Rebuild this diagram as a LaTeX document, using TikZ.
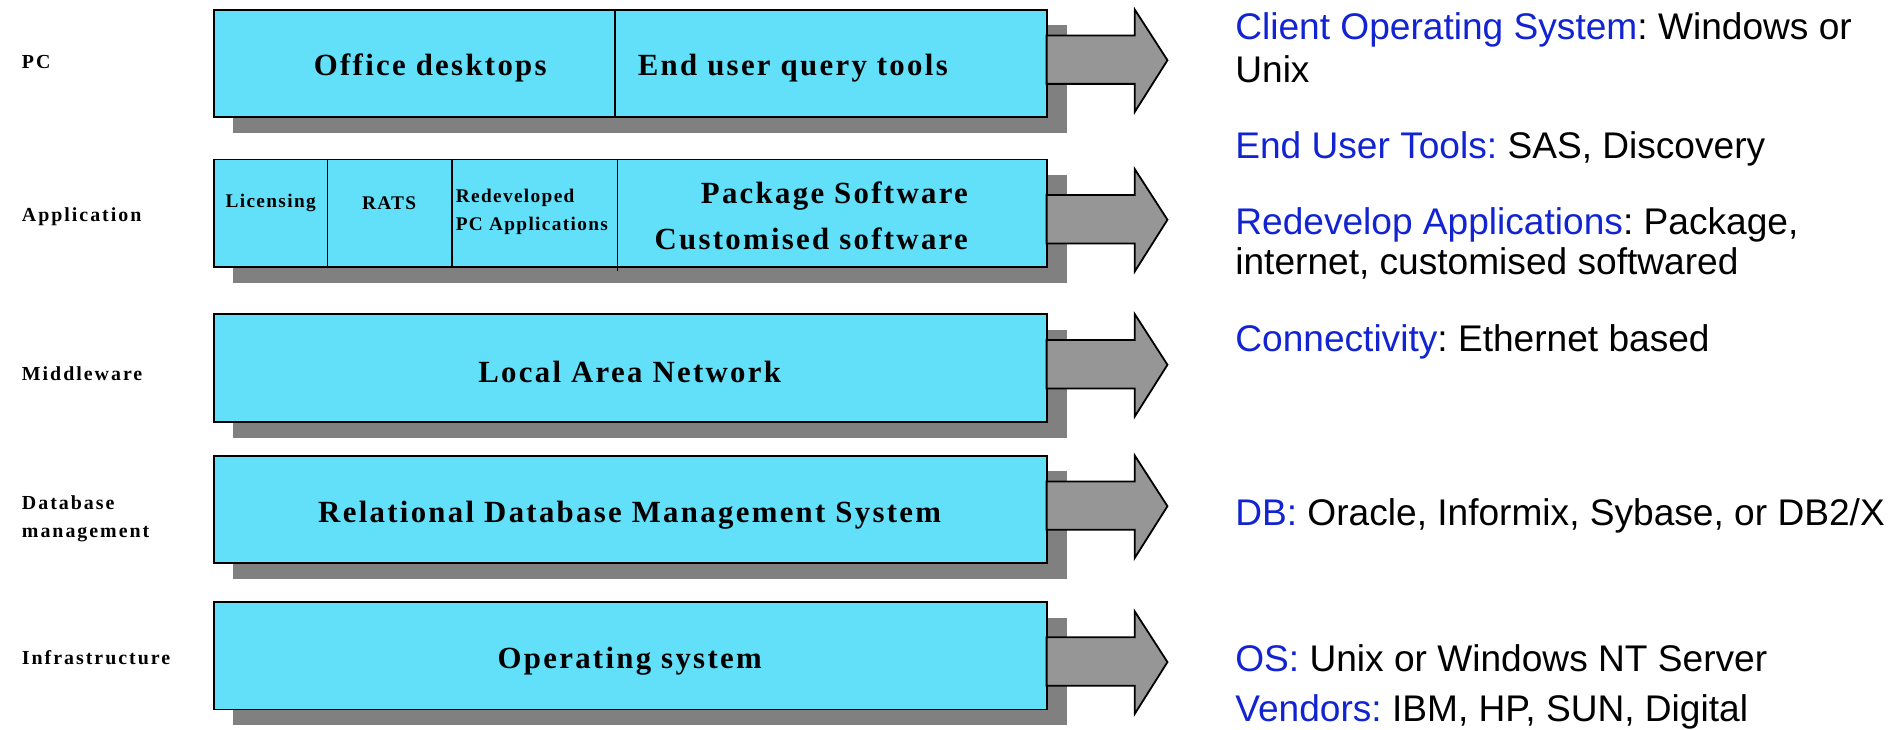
\documentclass[tikz,border=0pt]{standalone}
\usepackage{fontspec}
\setmainfont{Liberation Serif}
\newfontfamily\arialf{Liberation Sans}
\newfontfamily\boxf{Liberation Serif}[LetterSpace=7.5]
\newfontfamily\smallf{Liberation Serif}[LetterSpace=7]
\newfontfamily\labf{Liberation Serif}[LetterSpace=10]
\definecolor{boxcyan}{RGB}{98,224,250}
\definecolor{shadowgray}{RGB}{128,128,128}
\definecolor{arrowgray}{RGB}{150,150,150}
\definecolor{kwblue}{RGB}{18,36,210}
\frenchspacing
\tikzset{
  rowbox/.style={draw=black, line width=1.8pt, fill=boxcyan},
  rowshadow/.style={fill=shadowgray},
  divider/.style={draw=black, line width=1.5pt},
  blockarrow/.style={draw=black, line width=1.8pt, fill=arrowgray, line join=miter},
  bigtxt/.style={font=\boxf\bfseries\fontsize{30.8}{36}\selectfont, inner sep=0pt, align=center},
  smalltxt/.style={font=\smallf\bfseries\fontsize{19.3}{27}\selectfont, inner sep=0pt},
  labtxt/.style={font=\labf\bfseries\fontsize{19.9}{27}\selectfont, inner sep=0pt, anchor=west, align=left},
  righttxt/.style={font=\arialf\fontsize{37.1}{43}\selectfont, inner sep=0pt, anchor=base west},
}
\begin{document}
\begin{tikzpicture}[x=1.2086pt,y=-1.2086pt]
\useasboundingbox (0,0) rectangle (1568,604);
% rows: top, arrow shift
\foreach \t/\s in {8/0, 132/8, 260/0, 377/0, 498/8}{
  \pgfmathsetmacro{\h}{89}
  \fill[rowshadow] (193,\t+13) rectangle (883,\t+\h+13);
  \draw[rowbox] (177,\t) rectangle (866,\t+\h);
  \draw[blockarrow] (866,\t+\s+0.24*\h) -- (939,\t+\s+0.24*\h) -- (939,\t+\s) -- (966,\t+\s+0.47*\h)
     -- (939,\t+\s+0.95*\h) -- (939,\t+\s+0.69*\h) -- (866,\t+\s+0.69*\h) -- cycle;
}
% dividers
\draw[divider] (509,8) -- (509,97);
\draw[divider] (271,132) -- (271,221);
\draw[divider] (374,132) -- (374,221);
\draw[divider] (511,132) -- (511,224);
% row labels
\node[labtxt] (lpc) at (18,51) {PC};
\node[labtxt] (lapp) at (18,179.5) {Application};
\node[labtxt] (lmw) at (18,309.5) {Middleware};
\node[labtxt] (ldb) at (18,429.5) {Database\\[1pt]management};
\node[labtxt] (linf) at (18,544) {Infrastructure};
% box texts
\node[bigtxt] (office) at (356,56.5) {Office desktops};
\node[bigtxt] (enduser) at (656,56.5) {End user query tools};
\node[smalltxt] (lic) at (224,168) {Licensing};
\node[smalltxt] (rats) at (322,168) {RATS};
\node[smalltxt, anchor=west] (redev) at (377,164) {Redeveloped};
\node[smalltxt, anchor=west] (pcapp) at (377,187) {PC Applications};
\node[bigtxt, anchor=east] (pkg) at (801,162) {Package Software};
\node[bigtxt, anchor=east] (cust) at (801,197.5) {Customised software};
\node[bigtxt] (lan) at (521,308) {Local Area Network};
\node[bigtxt] (rdbms) at (521,426) {Relational Database Management System};
\node[bigtxt] (os) at (521,547) {Operating system};
% right texts
\node[righttxt] (t1) at (1022,33) {\textcolor{kwblue}{Client Operating System}: Windows or};
\node[righttxt] (t1b) at (1022,68) {Unix};
\node[righttxt] (t2) at (1022,131) {\textcolor{kwblue}{End User Tools:} SAS, Discovery};
\node[righttxt] (t3) at (1022,194) {\textcolor{kwblue}{Redevelop Applications}: Package,};
\node[righttxt] (t3b) at (1022,227) {internet, customised softwared};
\node[righttxt] (t4) at (1022,291) {\textcolor{kwblue}{Connectivity}: Ethernet based};
\node[righttxt] (t5) at (1022,435) {\textcolor{kwblue}{DB:} Oracle, Informix, Sybase, or DB2/X};
\node[righttxt] (t6) at (1022,556) {\textcolor{kwblue}{OS:} Unix or Windows NT Server};
\node[righttxt] (t7) at (1022,597) {\textcolor{kwblue}{Vendors:} IBM, HP, SUN, Digital};
\end{tikzpicture}
\end{document}
